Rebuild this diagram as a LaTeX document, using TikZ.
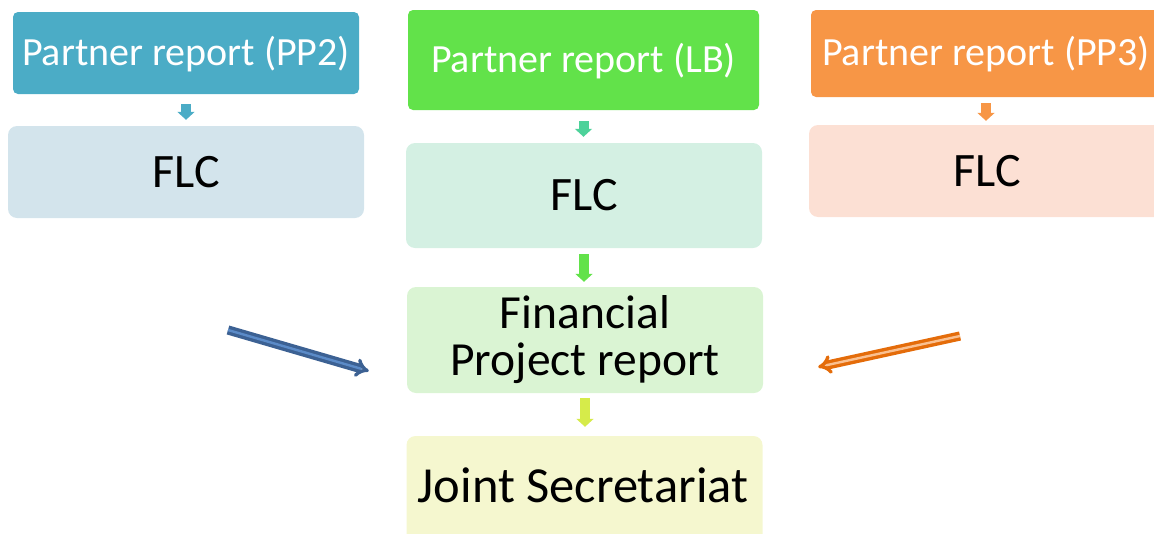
\documentclass[tikz,border=0pt]{standalone}
\usepackage{fontspec}
\setmainfont{Carlito}
\usetikzlibrary{arrows.meta,calc}

\definecolor{tealrep}{HTML}{4BACC6}
\definecolor{greenrep}{HTML}{62E24A}
\definecolor{orangerep}{HTML}{F79646}
\definecolor{tealflc}{HTML}{D3E4EC}
\definecolor{greenflc}{HTML}{D4F0E3}
\definecolor{orangeflc}{HTML}{FCE0D4}
\definecolor{finfill}{HTML}{DAF4D3}
\definecolor{jsfill}{HTML}{F5F7CF}
\definecolor{minttip}{HTML}{4DD29A}
\definecolor{limetip}{HTML}{D6EB4A}
\definecolor{bluedark}{HTML}{3C6193}
\definecolor{bluelight}{HTML}{5B8BC8}
\definecolor{orangedark}{HTML}{E46C0A}
\definecolor{orangelight}{HTML}{FAC090}

\tikzset{
  report/.style={rounded corners=5pt, inner sep=0pt, text=white,
    text height=24pt, text depth=0pt,
    minimum width=346pt, font=\fontsize{40}{44}\selectfont},
  flcbox/.style={rounded corners=9pt, inner sep=0pt, text=black,
    minimum width=356pt, font=\fontsize{48}{52}\selectfont},
  down/.style={line width=10pt, -{Triangle[width=17pt,length=8pt]}},
  feed/.style={line width=3.4pt, double distance=2.4pt, -{Implies}}
}

\begin{document}
\begin{tikzpicture}[x=1pt,y=-1pt]
  \clip (0,0) rectangle (1154,533);
  % top row
  \node[report, fill=tealrep, minimum height=82pt] (pp2) at (186,53) {Partner report (PP2)};
  \node[report, fill=greenrep, minimum height=100pt, minimum width=351pt] (lb) at (583.5,60) {Partner report (LB)};
  \node[report, fill=orangerep, minimum height=87pt, minimum width=350pt] (pp3) at (986,53.5) {Partner report (PP3)};
  % FLC row
  \node[flcbox, fill=tealflc, minimum height=92pt] (flc2) at (186,172) {FLC};
  \node[flcbox, fill=greenflc, minimum height=105pt] (flclb) at (584,195.5) {FLC};
  \node[flcbox, fill=orangeflc, minimum height=92pt] (flc3) at (987,171) {FLC};
  % lower column
  \node[flcbox, fill=finfill, minimum height=106pt, align=center,
    font=\fontsize{47.5}{47}\selectfont] (fin) at (585,340) {Financial\\Project report};
  \node[flcbox, fill=jsfill, minimum height=120pt] (js) at (584.5,496) {};
  \node[font=\fontsize{50.5}{54}\selectfont, inner sep=0pt, anchor=base] (jstext) at (583,502) {Joint Secretariat};
  % small arrows
  \draw[down, tealrep, shorten <=10pt, shorten >=6pt] (pp2.south) -- (pp2.south |- flc2.north);
  \draw[down, minttip, shorten <=11pt, shorten >=6pt] (lb.south) -- (lb.south |- flclb.north);
  \draw[down, greenrep, shorten <=6pt, shorten >=5pt] (flclb.south) -- (flclb.south |- fin.north);
  \draw[down, limetip, shorten <=5pt, shorten >=9pt] (fin.south) -- (fin.south |- js.north);
  \draw[down, orangerep, shorten <=6pt, shorten >=4pt] (pp3.south) -- (pp3.south |- flc3.north);
  % side arrows into the project report
  \coordinate (bluestart) at (228,330);
  \coordinate (orangestart) at (960,336);
  \draw[feed, draw=bluedark, double=bluelight] (bluestart) -- ($(fin.west)+(-38,31)$);
  \draw[feed, draw=orangedark, double=orangelight] (orangestart) -- ($(fin.east)+(55,27)$);
\end{tikzpicture}
\end{document}
